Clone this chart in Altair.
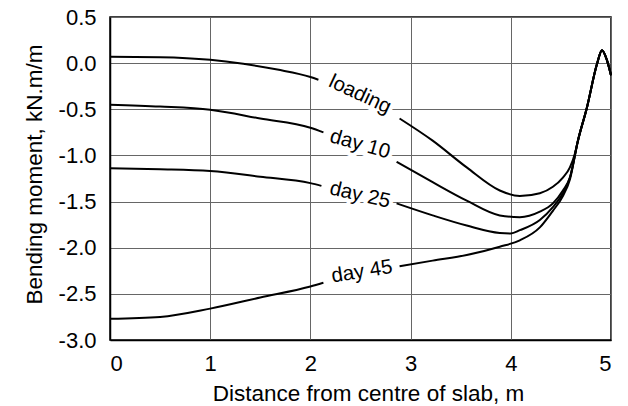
import altair as alt
import pandas as pd

FONT = "Liberation Sans"

# ---- data ----
# shared steep tail near the slab edge
tail_x = [4.67, 4.76, 4.86, 4.91, 4.96, 5.0]
tail_y = [-0.84, -0.48, -0.01, 0.14, 0.03, -0.13]

loading_a_x = [0.0, 0.5, 1.0, 1.33, 1.67, 2.0, 2.08]
loading_a_y = [0.07, 0.065, 0.037, -0.007, -0.07, -0.15, -0.18]
loading_b_x = [2.89, 3.22, 3.56, 3.89, 4.09, 4.29, 4.42, 4.52, 4.59, 4.64]
loading_b_y = [-0.60, -0.84, -1.13, -1.38, -1.44, -1.41, -1.34, -1.24, -1.13, -0.98]

day10_a_x = [0.0, 0.5, 1.0, 1.5, 2.0, 2.13]
day10_a_y = [-0.45, -0.47, -0.505, -0.60, -0.70, -0.75]
day10_b_x = [2.86, 3.22, 3.56, 3.89, 4.09, 4.29, 4.42, 4.52, 4.59]
day10_b_y = [-1.07, -1.29, -1.49, -1.65, -1.67, -1.61, -1.52, -1.38, -1.24]

day25_a_x = [0.0, 0.5, 1.0, 1.5, 2.0, 2.11]
day25_a_y = [-1.14, -1.15, -1.17, -1.23, -1.30, -1.33]
day25_b_x = [2.86, 3.22, 3.56, 3.89, 4.0, 4.09, 4.29, 4.42, 4.52, 4.59]
day25_b_y = [-1.52, -1.65, -1.76, -1.84, -1.845, -1.81, -1.70, -1.56, -1.41, -1.24]

day45_a_x = [0.0, 0.5, 1.0, 1.5, 2.0, 2.13]
day45_a_y = [-2.77, -2.75, -2.66, -2.54, -2.42, -2.38]
day45_b_x = [2.89, 3.22, 3.56, 3.89, 4.09, 4.29, 4.42, 4.52, 4.59]
day45_b_y = [-2.20, -2.14, -2.08, -1.99, -1.92, -1.78, -1.60, -1.44, -1.26]

label_text = ["loading", "day 10", "day 25", "day 45"]
label_x = [2.495, 2.495, 2.495, 2.515]
label_y = [-0.34, -0.88, -1.43, -2.26]
label_angle = [25, 16, 13, 351]

x_ticks = [0, 1, 2, 3, 4, 5]
y_ticks = [-3.0, -2.5, -2.0, -1.5, -1.0, -0.5, 0.0, 0.5]

# ---- build tables ----
rows = []
segments = [
    ("loading_a", loading_a_x, loading_a_y),
    ("loading_b", loading_b_x + tail_x, loading_b_y + tail_y),
    ("day10_a", day10_a_x, day10_a_y),
    ("day10_b", day10_b_x + tail_x, day10_b_y + tail_y),
    ("day25_a", day25_a_x, day25_a_y),
    ("day25_b", day25_b_x + tail_x, day25_b_y + tail_y),
    ("day45_a", day45_a_x, day45_a_y),
    ("day45_b", day45_b_x + tail_x, day45_b_y + tail_y),
]
for seg, xs, ys in segments:
    for i, (xv, yv) in enumerate(zip(xs, ys)):
        rows.append({"seg": seg, "idx": i, "x": xv, "y": yv})
lines_df = pd.DataFrame(rows)

labels_df = pd.DataFrame(
    {"text": label_text, "x": label_x, "y": label_y, "angle": label_angle}
)

x_scale = alt.Scale(domain=[0, 5], nice=False, zero=False)
y_scale = alt.Scale(domain=[-3, 0.5], nice=False, zero=False)

x_axis = alt.Axis(
    values=x_ticks,
    format="d",
    grid=True,
    ticks=False,
    labelPadding=13,
    labelFont=FONT,
    labelFontSize=22,
    labelColor="black",
    gridColor="#666666",
    gridWidth=1,
    domainColor="black",
    domainWidth=1.5,
    title="Distance from centre of slab, m",
    titleFont=FONT,
    titleFontSize=22.5,
    titleFontWeight="normal",
    titleColor="black",
    titleX=258,
    titleY=60,
    titleAlign="center",
    titleBaseline="alphabetic",
)

y_axis = alt.Axis(
    values=y_ticks,
    labelExpr="replace(format(datum.value, '.1f'), '\u2212', '-')",
    grid=True,
    ticks=False,
    labelPadding=14,
    labelFont=FONT,
    labelFontSize=22,
    labelColor="black",
    gridColor="#666666",
    gridWidth=1,
    domainColor="black",
    domainWidth=1.5,
    title="Bending moment, kN.m/m",
    titleFont=FONT,
    titleFontSize=22.5,
    titleFontWeight="normal",
    titleColor="black",
    titleAngle=-90,
    titleX=-76,
    titleY=157,
    titleAlign="center",
    titleBaseline="middle",
)

base_lines = alt.Chart(lines_df).mark_line(
    color="black", strokeWidth=2, interpolate="monotone"
).encode(
    x=alt.X("x:Q", scale=x_scale, axis=x_axis),
    y=alt.Y("y:Q", scale=y_scale, axis=y_axis),
    detail="seg:N",
    order="idx:Q",
)

halo = alt.Chart(labels_df).mark_text(
    font=FONT, fontSize=20.5, color="white", stroke="white", strokeWidth=8,
    align="center", baseline="middle",
).encode(
    x=alt.X("x:Q", scale=x_scale),
    y=alt.Y("y:Q", scale=y_scale),
    text="text:N",
    angle=alt.Angle("angle:Q", scale=None),
)

texts = alt.Chart(labels_df).mark_text(
    font=FONT, fontSize=20.5, color="black",
    align="center", baseline="middle",
).encode(
    x=alt.X("x:Q", scale=x_scale),
    y=alt.Y("y:Q", scale=y_scale),
    text="text:N",
    angle=alt.Angle("angle:Q", scale=None),
)

chart = alt.layer(halo, base_lines, texts).properties(
    width=501,
    height=323,
    autosize=alt.AutoSizeParams(type="none"),
    padding={"left": 110, "top": 17, "right": 17, "bottom": 66},
    background="white",
).configure_view(
    stroke="black", strokeWidth=1.5
)

chart.save("out.html", embed_options={"renderer": "svg", "actions": False})
